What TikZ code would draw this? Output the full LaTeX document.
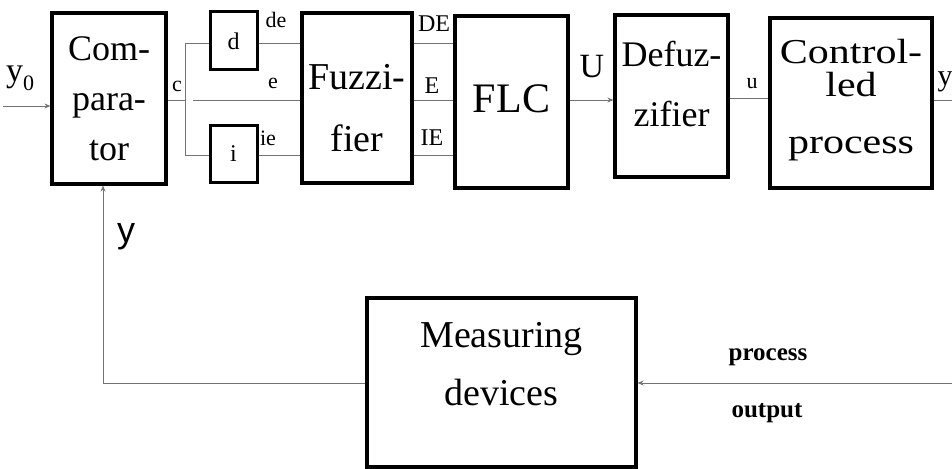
\documentclass[tikz,border=0pt]{standalone}
\usepackage{fontspec}
\setmainfont{Liberation Serif}
\newfontfamily\sansy{Liberation Sans}
\usetikzlibrary{arrows.meta}
\newcommand\stk[2]{\raisebox{#1}[\height][\depth]{\begin{tabular}{@{}c@{}}#2\end{tabular}}}
\begin{document}
\begin{tikzpicture}[x=1pt,y=-1pt,
  blk/.style={draw=black,line width=3.2pt,inner sep=0pt,align=center,font=\fontsize{36}{50}\selectfont},
  sblk/.style={draw=black,line width=3pt,inner sep=0pt,font=\fontsize{24}{26}\selectfont},
  wire/.style={draw=black!55,line width=0.8pt},
  arr/.style={wire,-{Stealth[length=6pt,width=5pt]}},
  lbl/.style={inner sep=0pt,font=\fontsize{22}{24}\selectfont},
  big/.style={inner sep=0pt,font=\fontsize{28}{30}\selectfont}]
\useasboundingbox (0,0) rectangle (952,468);
% blocks
\node[blk,minimum width=114pt,minimum height=171pt] (comp) at (109,98.5) {Com-\\para-\\tor};
\node[sblk,minimum width=47pt,minimum height=58pt] (d) at (233.5,41) {d};
\node[sblk,minimum width=47pt,minimum height=57pt] (i) at (233.5,153.5) {i};
\node[blk,minimum width=110pt,minimum height=170pt,font=\fontsize{38}{62}\selectfont] (fuzz) at (357,98) {\stk{-10pt}{Fuzzi-\\fier}};
\node[blk,minimum width=113pt,minimum height=172pt,font=\fontsize{42}{50}\selectfont] (flc) at (511.5,102) {\raisebox{3pt}[\height][\depth]{FLC}};
\node[blk,minimum width=113pt,minimum height=162pt,font=\fontsize{36}{60}\selectfont] (defuz) at (671.5,96) {\stk{11pt}{Defuz-\\zifier}};
\node[blk,minimum width=162pt,minimum height=170pt,font=\fontsize{35}{46}\selectfont] (proc) at (851,103) {\scalebox{1.2}[1]{\stk{4pt}{Control-\\[-13pt]led\\[11pt]process}}};
\node[blk,minimum width=269pt,minimum height=169pt,font=\fontsize{38}{58}\selectfont] (meas) at (501.5,382.5) {\stk{18pt}{Measuring\\devices}};
% coordinates
\coordinate (in) at (3,106);
\coordinate (sT) at (185,43);
\coordinate (sM) at (185,100);
\coordinate (sB) at (185,155);
\coordinate (eS) at (193,100);
\coordinate (out) at (952,100);
\coordinate (fbR) at (952,383);
\coordinate (fbL) at (103,383);
% connectors
\draw[arr] (in) -- (comp.west |- in);
\draw[wire] (comp.east |- sM) -- (sM);
\draw[wire] (sT) -- (sB);
\draw[wire] (sT) -- (d.west |- sT);
\draw[wire] (sB) -- (i.west |- sB);
\draw[wire] (eS) -- (fuzz.west |- eS);
\draw[wire] (d.east |- sT) -- (fuzz.west |- sT);
\draw[wire] (i.east |- sB) -- (fuzz.west |- sB);
\draw[wire] (fuzz.east |- sT) -- (flc.west |- sT);
\draw[wire] (fuzz.east |- sM) -- (flc.west |- sM);
\draw[wire] (fuzz.east |- sB) -- (flc.west |- sB);
\draw[arr] (flc.east |- sM) -- (defuz.west |- sM);
\draw[wire] (defuz.east |- 0,98) -- (proc.west |- 0,98);
\draw[wire] (proc.east |- out) -- (out);
\draw[arr] (fbR) -- (meas.east |- fbR);
\draw[wire] (meas.west |- fbL) -- (fbL);
\draw[arr] (fbL) -- (fbL |- comp.south);
% labels
\node[inner sep=0pt,font=\fontsize{34}{36}\selectfont] (ly0) at (20,78) {y\raisebox{-9pt}{\fontsize{22}{24}\selectfont 0}};
\node[lbl] (lc) at (177,86) {c};
\node[lbl] (lde) at (276,20) {de};
\node[lbl] (le) at (273,83) {e};
\node[lbl] (lie) at (268,138) {ie};
\node[lbl,font=\fontsize{24}{26}\selectfont] (lDE) at (434,24) {DE};
\node[lbl,font=\fontsize{24}{26}\selectfont] (lE) at (432,86) {E};
\node[lbl,font=\fontsize{24}{26}\selectfont] (lIE) at (432,138) {IE};
\node[inner sep=0pt,font=\fontsize{34}{36}\selectfont] (lU) at (592,67) {U};
\node[lbl] (lu) at (752,84) {u};
\node[inner sep=0pt,font=\fontsize{30}{32}\selectfont] (ly) at (945,82) {y};
\node[inner sep=0pt,font=\sansy\fontsize{36}{38}\selectfont] (lyf) at (126,237) {y};
\node[inner sep=0pt,font=\fontsize{25}{27}\selectfont\bfseries] (lp) at (768,357) {process};
\node[inner sep=0pt,font=\fontsize{25}{27}\selectfont\bfseries] (lo) at (767,413) {output};
\end{tikzpicture}
\end{document}
